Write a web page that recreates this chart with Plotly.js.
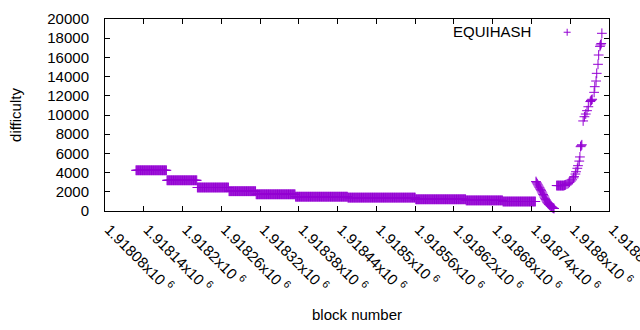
<!DOCTYPE html>
<html>
<head>
<meta charset="utf-8">
<script src="https://cdn.plot.ly/plotly-3.0.1.min.js"></script>
<style>html,body{margin:0;padding:0;background:#fff}#chart{width:640px;height:330px}</style>
</head>
<body>
<div id="chart"></div>
<script>
// Flat difficulty steps: first block, last block, difficulty
const segStart = [1918128, 1918176, 1918223, 1918272, 1918314, 1918375, 1918456, 1918561, 1918639, 1918696];
const segEnd   = [1918175, 1918222, 1918271, 1918313, 1918374, 1918455, 1918560, 1918638, 1918695, 1918746];
const segDiff  = [4240, 3198, 2448, 2063, 1740, 1490, 1396, 1219, 1104, 990];

// Falling part after the last step
const fallBlocks = [1918747,1918748,1918749,1918750,1918751,1918752,1918753,1918754,1918755,1918756,1918757,1918758,1918759,1918760,1918761,1918762,1918763,1918764,1918765,1918766,1918767,1918768,1918769,1918770,1918771,1918772,1918773,1918774,1918775];
const fallDiff   = [3070,2950,2830,2720,2600,2480,2380,2250,2120,1990,1860,1720,1590,1450,1320,1190,1060,940,850,760,690,630,560,500,450,390,330,290,260];

// Rising part at the end
const riseBlocks = [1918779,1918780,1918781,1918782,1918783,1918784,1918785,1918786,1918787,1918788,1918789,1918790,1918791,1918792,1918793,1918795,1918797,1918799,1918801,1918803,1918805,1918806,1918808,1918809,1918811,1918812,1918814,1918815,1918816,1918817,1918818,1918820,1918822,1918824,1918826,1918828,1918831,1918832,1918833,1918834,1918837,1918838,1918840,1918841,1918843,1918844,1918846,1918847,1918848,1918849];
const riseDiff   = [2650,2650,2650,2650,2650,2650,2650,2650,2650,2650,2650,2650,2680,2700,2740,2800,2880,2990,3120,3250,3450,3580,3850,4090,4450,4720,5200,5630,6700,6800,6900,9380,9820,10100,10450,10860,11400,11500,11560,11640,12360,12950,13540,14340,15280,16250,17150,17300,17450,18510];

// Axis ticks
const tickBlocks = [1918080,1918140,1918200,1918260,1918320,1918380,1918440,1918500,1918560,1918620,1918680,1918740,1918800,1918860];
const tickLabels = ["1.91808x10 <sup>6</sup>","1.91814x10 <sup>6</sup>","1.9182x10 <sup>6</sup>","1.91826x10 <sup>6</sup>","1.91832x10 <sup>6</sup>","1.91838x10 <sup>6</sup>","1.91844x10 <sup>6</sup>","1.9185x10 <sup>6</sup>","1.91856x10 <sup>6</sup>","1.91862x10 <sup>6</sup>","1.91868x10 <sup>6</sup>","1.91874x10 <sup>6</sup>","1.9188x10 <sup>6</sup>","1.91886x10 <sup>6</sup>"];
const yTicks = [0, 2000, 4000, 6000, 8000, 10000, 12000, 14000, 16000, 18000, 20000];

const seriesName = "EQUIHASH";
const color = "#9400d3";

const xs = [], ys = [];
for (let i = 0; i < segStart.length; i++) {
  for (let b = segStart[i]; b <= segEnd[i]; b++) { xs.push(b); ys.push(segDiff[i]); }
}
fallBlocks.forEach((b, i) => { xs.push(b); ys.push(fallDiff[i]); });
riseBlocks.forEach((b, i) => { xs.push(b); ys.push(riseDiff[i]); });

const font = {family: "Liberation Sans, Arial, sans-serif", size: 15, color: "#000"};

const trace = {
  type: "scatter", mode: "markers", name: seriesName, x: xs, y: ys,
  marker: {symbol: "cross-thin", size: 7, color: color, line: {color: color, width: 1}},
  showlegend: false, cliponaxis: false
};

const axisCommon = {
  showline: true, linecolor: "#000", linewidth: 1, mirror: "allticks",
  ticks: "inside", ticklen: 5, tickcolor: "#000", tickwidth: 1,
  showgrid: false, zeroline: false, tickfont: font, automargin: false,
  ticklabeloverflow: "allow"
};

const layout = {
  width: 640, height: 330,
  margin: {l: 105, r: 31, t: 19, b: 119},
  paper_bgcolor: "#fff", plot_bgcolor: "#fff",
  font: font,
  xaxis: Object.assign({}, axisCommon, {
    range: [1918080, 1918860.01], tickmode: "array", tickvals: tickBlocks, ticktext: tickLabels,
    tickangle: 45, ticklabelstandoff: 3, ticklabelshift: 4,
    title: {text: "block number", font: font, standoff: 14}
  }),
  yaxis: Object.assign({}, axisCommon, {
    range: [0, 20000], tickmode: "array", tickvals: yTicks, ticktext: yTicks.map(String),
    ticklabelstandoff: 12,
    title: {text: "difficulty", font: font, standoff: 22}
  }),
  annotations: [{
    text: seriesName, xref: "paper", yref: "paper", x: 0.849, y: 0.934,
    xanchor: "right", yanchor: "middle", showarrow: false, font: font
  }],
  shapes: [
    {type: "line", xref: "paper", yref: "paper", x0: 0.917 - 3.5/504, x1: 0.917 + 3.5/504, y0: 0.931, y1: 0.931, line: {color: color, width: 1}},
    {type: "line", xref: "paper", yref: "paper", x0: 0.917, x1: 0.917, y0: 0.931 - 3.5/192, y1: 0.931 + 3.5/192, line: {color: color, width: 1}}
  ]
};

Plotly.newPlot("chart", [trace], layout, {displayModeBar: false, staticPlot: true});
</script>
</body>
</html>
